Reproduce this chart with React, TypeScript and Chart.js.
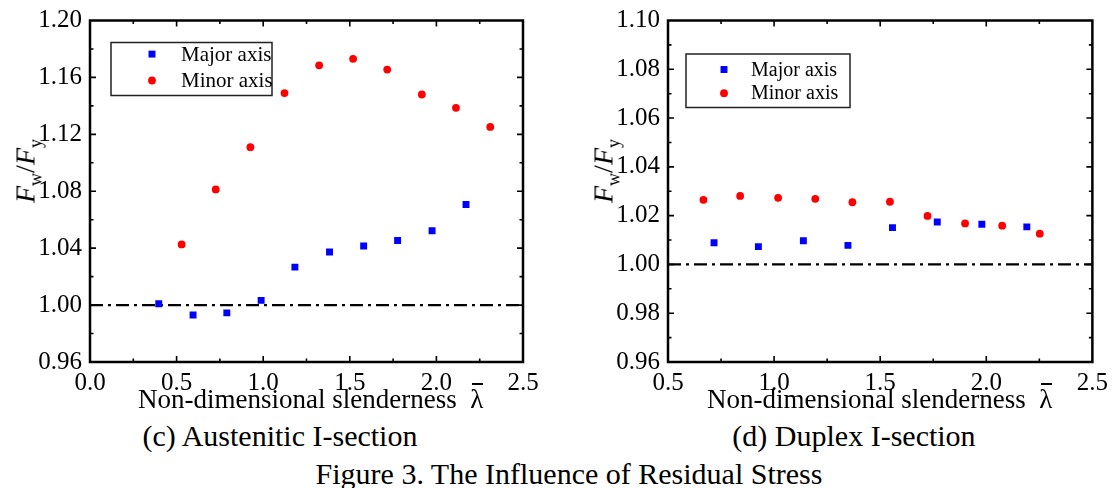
import React, { useEffect, useRef } from "react";
import { Chart, registerables } from "chart.js";

Chart.register(...registerables);

// ---------- (c) Austenitic I-section ----------
const austMajorX = [0.397, 0.595, 0.79, 0.988, 1.183, 1.383, 1.58, 1.776, 1.975, 2.171];
const austMajorY = [1.001, 0.993, 0.9945, 1.0033, 1.0267, 1.0373, 1.0415, 1.0454, 1.0523, 1.0707];
const austMinorX = [0.529, 0.726, 0.926, 1.123, 1.323, 1.519, 1.716, 1.916, 2.113, 2.311];
const austMinorY = [1.0426, 1.0813, 1.111, 1.149, 1.1685, 1.1731, 1.1655, 1.148, 1.1386, 1.1252];

// ---------- (d) Duplex I-section ----------
const dupMajorX = [0.717, 0.926, 1.138, 1.348, 1.558, 1.769, 1.979, 2.191];
const dupMajorY = [1.0089, 1.0073, 1.0097, 1.0078, 1.0151, 1.0174, 1.0165, 1.0154];
const dupMinorX = [0.667, 0.84, 1.019, 1.194, 1.369, 1.546, 1.723, 1.9, 2.075, 2.252];
const dupMinorY = [1.0265, 1.0281, 1.0273, 1.0269, 1.0255, 1.0257, 1.0199, 1.0168, 1.0159, 1.0126];

// reference line Fw/Fy = 1
const refLevel = 1.0;

// axis ranges / tick steps
const austXAxis = { min: 0, max: 2.5, step: 0.5, minor: 0.25, digits: 1 };
const austYAxis = { min: 0.96, max: 1.2, step: 0.04, minor: 0.02, digits: 2 };
const dupXAxis = { min: 0.5, max: 2.5, step: 0.5, minor: 0.25, digits: 1 };
const dupYAxis = { min: 0.96, max: 1.1, step: 0.02, minor: 0.01, digits: 2 };

const seriesNames = ["Major axis", "Minor axis"];

const FONT = "'Liberation Serif', 'Times New Roman', serif";

type AxisSpec = { min: number; max: number; step: number; minor: number; digits: number };

const ticksPlugin = {
  id: "innerTicks",
  afterDraw(chart: any, _args: any, opts: any) {
    const { ctx, chartArea } = chart;
    const { left, right, top, bottom } = chartArea;
    ctx.save();
    ctx.strokeStyle = "#000";
    ctx.lineWidth = 1.6;
    const xs = chart.scales.x;
    const ys = chart.scales.y;
    const xa: AxisSpec = opts.xAxis;
    const ya: AxisSpec = opts.yAxis;
    const isMajor = (k: number, a: AxisSpec) => {
      const r = (k * a.minor) / a.step;
      return Math.abs(r - Math.round(r)) < 1e-6;
    };
    const nx = Math.round((xa.max - xa.min) / xa.minor);
    for (let k = 1; k < nx; k++) {
      const px = xs.getPixelForValue(xa.min + k * xa.minor);
      const len = isMajor(k, xa) ? opts.majorLen : opts.minorLen;
      ctx.beginPath();
      ctx.moveTo(px, bottom);
      ctx.lineTo(px, bottom - len);
      ctx.moveTo(px, top);
      ctx.lineTo(px, top + len);
      ctx.stroke();
    }
    const ny = Math.round((ya.max - ya.min) / ya.minor);
    for (let k = 1; k < ny; k++) {
      const py = ys.getPixelForValue(ya.min + k * ya.minor);
      const len = isMajor(k, ya) ? opts.majorLen : opts.minorLen;
      ctx.beginPath();
      ctx.moveTo(left, py);
      ctx.lineTo(left + len, py);
      ctx.moveTo(right, py);
      ctx.lineTo(right - len, py);
      ctx.stroke();
    }
    ctx.lineWidth = 2.5;
    ctx.strokeRect(left, top, right - left, bottom - top);
    ctx.restore();
  },
};

const legendPlugin = {
  id: "boxLegend",
  afterDraw(chart: any, _args: any, opts: any) {
    const { ctx, chartArea } = chart;
    const x0 = chartArea.left + opts.dx;
    const y0 = chartArea.top + opts.dy;
    ctx.save();
    ctx.fillStyle = "#fff";
    ctx.fillRect(x0, y0, opts.w, opts.h);
    ctx.strokeStyle = "#222";
    ctx.lineWidth = 1.5;
    ctx.strokeRect(x0, y0, opts.w, opts.h);
    ctx.font = `${opts.fontSize}px ${FONT}`;
    ctx.textBaseline = "middle";
    ctx.textAlign = "left";
    chart.data.datasets.forEach((ds: any, i: number) => {
      if (!ds.inLegend) return;
      const cy = chartArea.top + opts.rows[i];
      const cx = chartArea.left + opts.markerX;
      ctx.fillStyle = ds.backgroundColor;
      if (ds.pointStyle === "rect") {
        const s = ds.pointRadius * Math.SQRT1_2;
        ctx.fillRect(cx - s, cy - s, 2 * s, 2 * s);
      } else {
        ctx.beginPath();
        ctx.arc(cx, cy, ds.pointRadius, 0, Math.PI * 2);
        ctx.fill();
      }
      ctx.fillStyle = "#000";
      ctx.fillText(ds.label, chartArea.left + opts.textX, cy + 1);
    });
    ctx.restore();
  },
};

function toPoints(xs: number[], ys: number[]) {
  return xs.map((x, i) => ({ x, y: ys[i] }));
}

function buildConfig(
  majorX: number[], majorY: number[], minorX: number[], minorY: number[],
  xa: AxisSpec, ya: AxisSpec,
  layout: { padRight: number; yWidth: number; xHeight: number; padTop: number },
  legend: any
): any {
  return {
    type: "scatter",
    data: {
      datasets: [
        {
          label: seriesNames[0],
          inLegend: true,
          data: toPoints(majorX, majorY),
          pointStyle: "rect",
          pointRadius: 4.9,
          backgroundColor: "#0000ff",
          borderWidth: 0,
        },
        {
          label: seriesNames[1],
          inLegend: true,
          data: toPoints(minorX, minorY),
          pointStyle: "circle",
          pointRadius: 3.9,
          backgroundColor: "#ff0000",
          borderWidth: 0,
        },
        {
          type: "line",
          label: "ref",
          inLegend: false,
          data: [
            { x: xa.min, y: refLevel },
            { x: xa.max, y: refLevel },
          ],
          borderColor: "#000",
          borderWidth: 2.2,
          borderDash: [13, 5, 3, 5],
          pointRadius: 0,
          showLine: true,
          fill: false,
        },
      ],
    },
    options: {
      animation: false,
      responsive: false,
      maintainAspectRatio: false,
      events: [],
      layout: { padding: { top: layout.padTop, right: layout.padRight, left: 0, bottom: 0 } },
      plugins: {
        legend: { display: false },
        tooltip: { enabled: false },
        innerTicks: { xAxis: xa, yAxis: ya, majorLen: 6, minorLen: 3.5 },
        boxLegend: legend,
      },
      scales: {
        x: {
          type: "linear",
          min: xa.min,
          max: xa.max,
          grid: { display: false, drawTicks: false },
          border: { display: false },
          ticks: {
            stepSize: xa.step,
            autoSkip: false,
            maxRotation: 0,
            padding: 9,
            color: "#000",
            font: { family: FONT, size: 25, lineHeight: 1 },
            callback: (v: any) => Number(v).toFixed(xa.digits),
          },
          afterFit: (s: any) => {
            s.height = layout.xHeight;
          },
        },
        y: {
          type: "linear",
          min: ya.min,
          max: ya.max,
          grid: { display: false, drawTicks: false },
          border: { display: false },
          ticks: {
            stepSize: ya.step,
            autoSkip: false,
            padding: 8,
            color: "#000",
            font: { family: FONT, size: 25, lineHeight: 1 },
            callback: (v: any) => Number(v).toFixed(ya.digits),
          },
          afterFit: (s: any) => {
            s.width = layout.yWidth;
          },
        },
      },
    },
    plugins: [ticksPlugin, legendPlugin],
  };
}

const CANVAS_H = 400;

function YTitle({ cx, cy }: { cx: number; cy: number }) {
  return (
    <div
      style={{
        position: "absolute",
        left: cx,
        top: cy,
        transform: "translate(-50%, -50%) rotate(-90deg)",
        whiteSpace: "nowrap",
        fontFamily: FONT,
        fontSize: 28,
        lineHeight: "28px",
        color: "#000",
      }}
    >
      <i>F</i>
      <span style={{ fontSize: 18, position: "relative", top: 7 }}>w</span>
      /<i>F</i>
      <span style={{ fontSize: 18, position: "relative", top: 7 }}>y</span>
    </div>
  );
}

function XTitle({ left }: { left: number }) {
  return (
    <div
      style={{
        position: "absolute",
        left,
        top: 386,
        whiteSpace: "nowrap",
        fontFamily: FONT,
        fontSize: 27,
        lineHeight: "27px",
        color: "#000",
      }}
    >
      Non-dimensional slenderness{"\u00a0\u00a0"}
      <span style={{ position: "relative", display: "inline-block" }}>
        λ
        <span
          style={{
            position: "absolute",
            left: 2,
            top: -3,
            width: 11,
            height: 1.5,
            background: "#000",
          }}
        />
      </span>
    </div>
  );
}

function Caption({ cx, top, text }: { cx: number; top: number; text: string }) {
  return (
    <div
      style={{
        position: "absolute",
        left: cx,
        top,
        transform: "translateX(-50%)",
        whiteSpace: "nowrap",
        fontFamily: FONT,
        fontSize: 30,
        lineHeight: "30px",
        color: "#000",
      }}
    >
      {text}
    </div>
  );
}

export default function App() {
  const leftRef = useRef<HTMLCanvasElement>(null);
  const rightRef = useRef<HTMLCanvasElement>(null);

  useEffect(() => {
    const c1 = new Chart(
      leftRef.current as HTMLCanvasElement,
      buildConfig(
        austMajorX, austMajorY, austMinorX, austMinorY,
        austXAxis, austYAxis,
        { padRight: 37, yWidth: 90, xHeight: CANVAS_H - 362, padTop: 15 },
        { dx: 21, dy: 22, w: 161, h: 53, markerX: 62, textX: 91, rows: [33.6, 60], fontSize: 21 }
      )
    );
    const c2 = new Chart(
      rightRef.current as HTMLCanvasElement,
      buildConfig(
        dupMajorX, dupMajorY, dupMinorX, dupMinorY,
        dupXAxis, dupYAxis,
        { padRight: 21, yWidth: 108, xHeight: CANVAS_H - 362, padTop: 15 },
        { dx: 18, dy: 33.5, w: 164, h: 53.5, markerX: 56, textX: 83, rows: [49, 72.7], fontSize: 20 }
      )
    );
    let alive = true;
    const fonts: any = (document as any).fonts;
    if (fonts && fonts.load) {
      fonts
        .load(`25px ${FONT}`)
        .then(() => {
          if (alive) {
            c1.update();
            c2.update();
          }
        })
        .catch(() => {});
    }
    return () => {
      alive = false;
      c1.destroy();
      c2.destroy();
    };
  }, []);

  return (
    <div
      style={{
        position: "absolute",
        left: 0,
        top: 0,
        width: 1117,
        height: 488,
        background: "#fff",
        overflow: "hidden",
      }}
    >
      <canvas
        ref={leftRef}
        width={560}
        height={CANVAS_H}
        style={{ position: "absolute", left: 0, top: 0, width: 560, height: CANVAS_H }}
      />
      <canvas
        ref={rightRef}
        width={557}
        height={CANVAS_H}
        style={{ position: "absolute", left: 560, top: 0, width: 557, height: CANVAS_H }}
      />
      <YTitle cx={27} cy={171} />
      <YTitle cx={605} cy={171} />
      <XTitle left={138} />
      <XTitle left={707} />
      <Caption cx={280} top={421} text="(c) Austenitic I-section" />
      <Caption cx={854} top={421} text="(d) Duplex I-section" />
      <Caption cx={569} top={459} text="Figure 3. The Influence of Residual Stress" />
    </div>
  );
}
